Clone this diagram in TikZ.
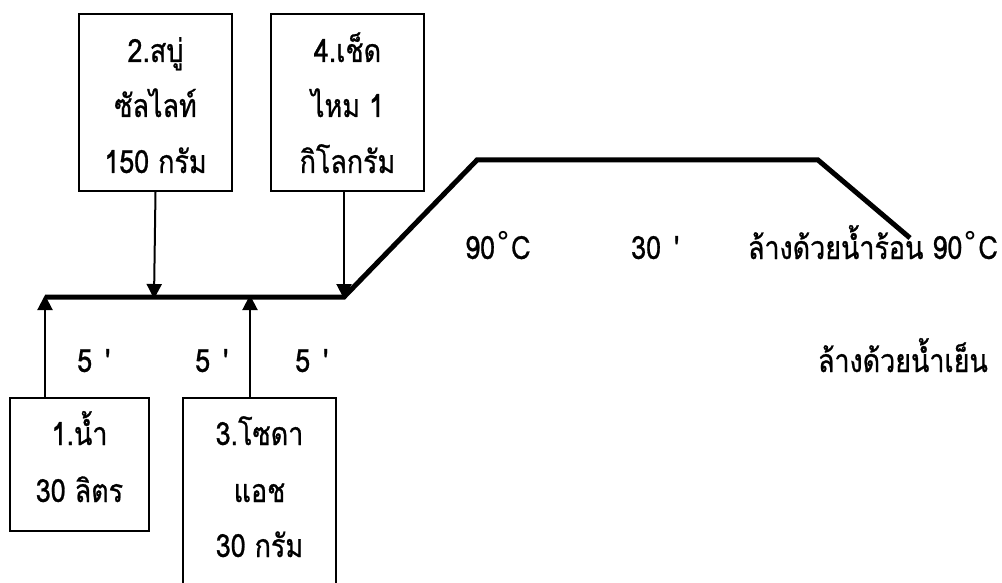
\documentclass[tikz,border=0pt]{standalone}
\usepackage{fontspec}
\setmainfont[Script=Thai, Ligatures=TeXOff, FakeStretch=0.84, FakeBold=0.8]{Loma}
\newfontfamily\symfont{DejaVu Sans}
\newcommand{\degring}{{\symfont\char"02DA}}
\newcommand{\mins}{\hspace{13pt}'}
\usetikzlibrary{arrows.meta}
\tikzset{
  box/.style={draw, line width=1.8, inner sep=0, minimum width=#1},
  lbl/.style={anchor=base, inner sep=0, font=\fontsize{32}{32}\selectfont},
  feed/.style={line width=2, -{Triangle[width=15,length=15]}},
  bath/.style={line width=5, line join=miter},
}
\begin{document}
\begin{tikzpicture}[x=1pt, y=-1pt]
\useasboundingbox (0,0) rectangle (1002,583);

% ingredient boxes
\node[box=153, minimum height=177] (b2) at (155.5,102.5) {};
\node[box=153, minimum height=177] (b4) at (347.5,102.5) {};
\node[box=139, minimum height=133] (b1) at (79.5,464.5) {};
\node[box=153, minimum height=210] (b3) at (259.5,503) {};

% box texts
\node[lbl] (t2a) at (155.5,62) {2.สบู่};
\node[lbl] (t2b) at (155.5,117) {ซัลไลท์};
\node[lbl] (t2c) at (155.5,173) {150 กรัม};
\node[lbl] (t4a) at (347.5,62) {4.เช็ด};
\node[lbl] (t4b) at (347.5,117) {ไหม 1};
\node[lbl] (t4c) at (347.5,173) {กิโลกรัม};
\node[lbl] (t1a) at (79.5,445) {1.น้ำ};
\node[lbl] (t1b) at (79.5,502) {30 ลิตร};
\node[lbl] (t3a) at (259.5,445) {3.โซดา};
\node[lbl] (t3b) at (259.5,502) {แอช};
\node[lbl] (t3c) at (259.5,557) {30 กรัม};

% temperature / time profile
\coordinate (p0) at (45,297);
\coordinate (p2) at (154,297);
\coordinate (p3) at (250,297);
\coordinate (p4) at (344,297);
\coordinate (q1) at (477,160);
\coordinate (q2) at (818,160);
\coordinate (q3) at (910,238);
\draw[bath] (p0) -- (p4) -- (q1) -- (q2) -- (q3);

% feed arrows
\draw[feed] (b2.south) -- ([yshift=-2]p2);
\draw[feed] (b4.south -| p4) -- ([yshift=-2]p4);
\draw[feed] (b1.north -| p0) -- ([yshift=2]p0);
\draw[feed] (b3.north -| p3) -- ([yshift=2]p3);

% timing and temperature labels
\node[lbl, anchor=base west] (m1) at (77,372) {5\mins};
\node[lbl, anchor=base west] (m2) at (195,372) {5\mins};
\node[lbl, anchor=base west] (m3) at (295,372) {5\mins};
\node[lbl, anchor=base west] (h1) at (465,259) {90\degring C};
\node[lbl, anchor=base west] (h2) at (631,259) {30\mins};
\node[lbl, anchor=base east] (h3) at (998,259) {ล้างด้วยน้ำร้อน 90\degring C};
\node[lbl, anchor=base east] (h4) at (988,372) {ล้างด้วยน้ำเย็น};
\end{tikzpicture}
\end{document}
